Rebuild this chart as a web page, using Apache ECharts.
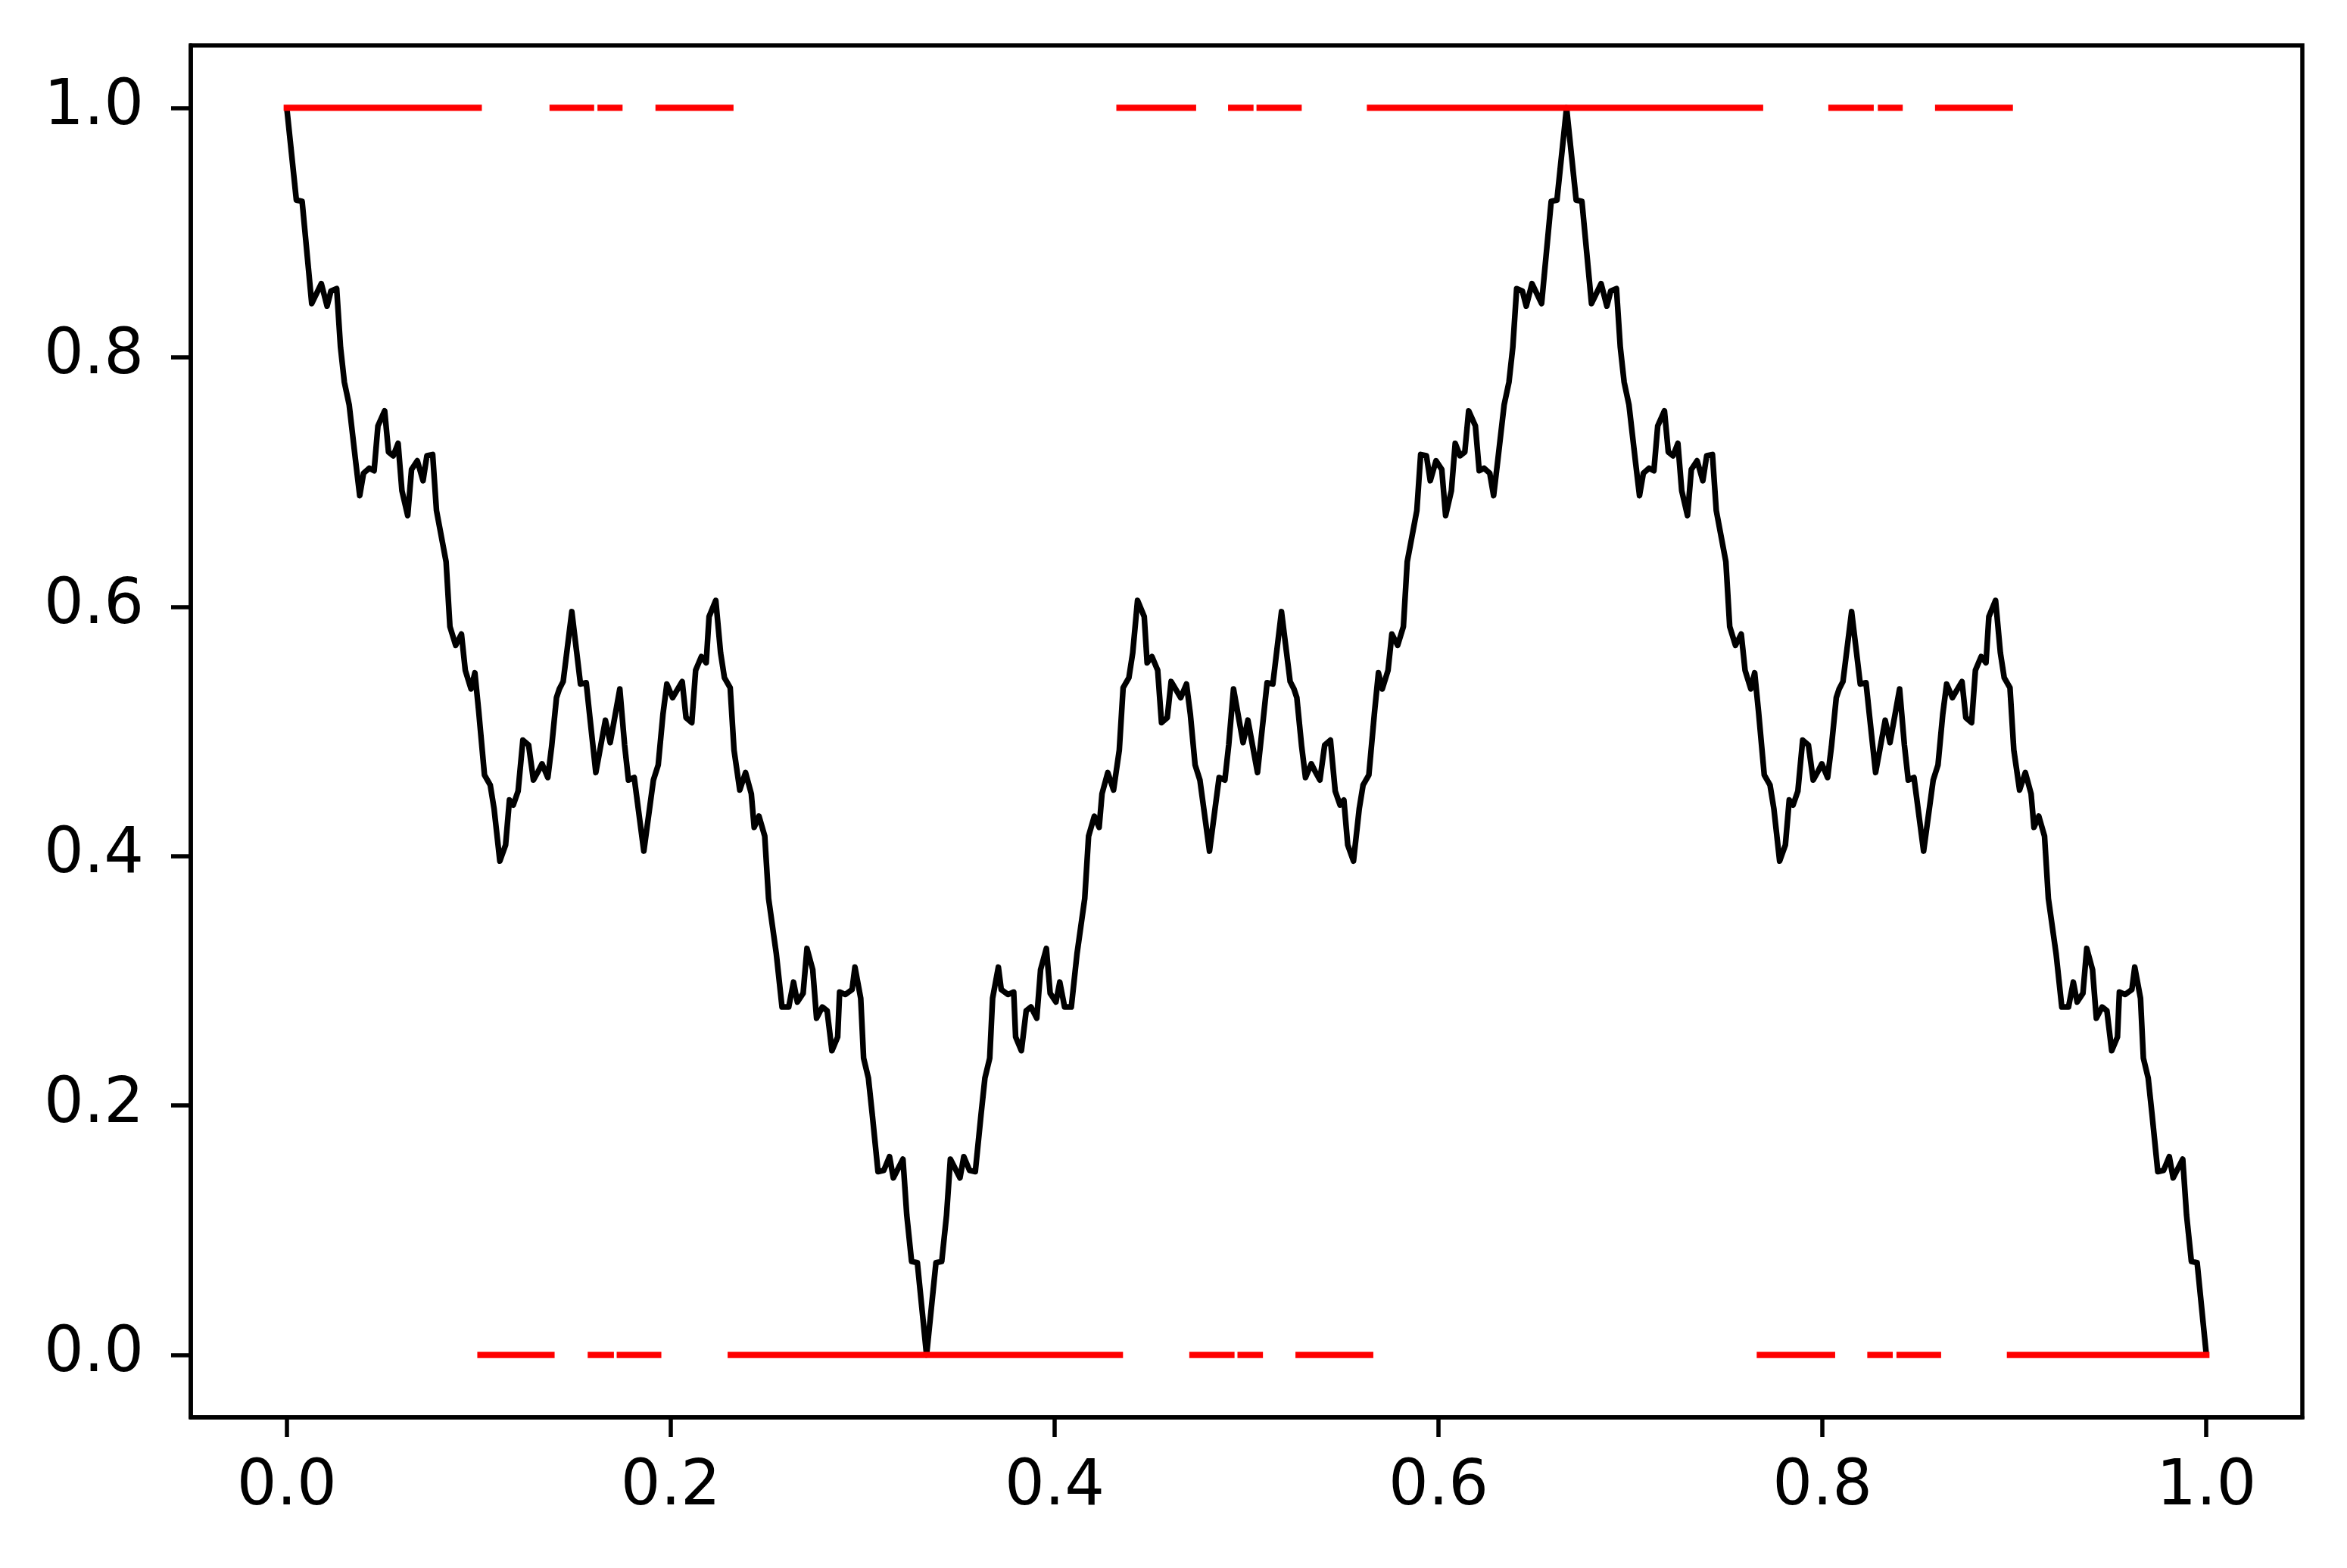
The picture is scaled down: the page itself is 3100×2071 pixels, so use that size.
<!DOCTYPE html>
<html>
<head>
<meta charset="utf-8">
<script src="https://cdn.jsdelivr.net/npm/echarts@6/dist/echarts.min.js"></script>
<style>
html,body{margin:0;padding:0;background:#fff;}
#chart{width:3100px;height:2071px;}
</style>
</head>
<body>
<div id="chart"></div>
<script>
// ---- black curve, first third [0, 1/3] ----
const curveX1 = [0.000,0.005,0.008,0.013,0.018,0.021,0.023,0.026,0.028,0.030,0.0325,0.036,0.038,0.040,0.043,0.0455,0.0475,0.051,0.053,0.0555,0.058,0.060,0.063,0.065,0.068,0.071,0.073,0.076,0.078,0.083,0.085,0.088,0.091,0.093,0.096,0.098,0.100,0.103,0.106,0.108,0.111,0.114,0.116,0.118,0.1205,0.123,0.126,0.1285,0.131,0.133,0.136,0.138,0.1405,0.142,0.144,0.1485,0.151,0.153,0.156,0.158,0.161,0.1635,0.166,0.1685,0.1735,0.176,0.178,0.181,0.186,0.191,0.1935,0.196,0.198,0.201,0.206,0.208,0.211,0.213,0.216,0.2185,0.220,0.2235,0.226,0.228,0.231,0.233,0.236,0.239,0.242,0.2435,0.246,0.249,0.251,0.255,0.258,0.2615,0.264,0.266,0.269,0.271,0.274,0.276,0.279,0.2815,0.284,0.287,0.288,0.291,0.2945,0.296,0.299,0.3005,0.303,0.305,0.308,0.311,0.314,0.316,0.321,0.323,0.3255,0.3285,0.3333];
const curveY1 = [1.000,0.926,0.925,0.843,0.859,0.841,0.853,0.855,0.808,0.780,0.762,0.715,0.689,0.707,0.711,0.709,0.745,0.757,0.724,0.721,0.731,0.693,0.673,0.710,0.717,0.701,0.721,0.722,0.677,0.636,0.584,0.569,0.578,0.549,0.534,0.547,0.516,0.465,0.457,0.438,0.396,0.409,0.445,0.441,0.452,0.493,0.489,0.461,0.468,0.474,0.463,0.488,0.527,0.534,0.540,0.596,0.564,0.538,0.539,0.510,0.467,0.488,0.509,0.491,0.534,0.489,0.461,0.463,0.404,0.461,0.473,0.514,0.538,0.527,0.540,0.511,0.507,0.549,0.560,0.555,0.592,0.605,0.563,0.543,0.535,0.485,0.453,0.467,0.450,0.423,0.432,0.416,0.366,0.322,0.279,0.279,0.299,0.283,0.290,0.326,0.309,0.270,0.279,0.276,0.244,0.255,0.291,0.289,0.293,0.311,0.286,0.238,0.222,0.193,0.147,0.148,0.159,0.142,0.157,0.112,0.075,0.074,0.000];

// ---- black curve, middle third (1/3, 2/3] ----
const curveX2 = [0.3382,0.3412,0.3437,0.3457,0.3507,0.3527,0.3557,0.3587,0.3617,0.3637,0.3662,0.3677,0.3707,0.3722,0.3757,0.3787,0.3797,0.3827,0.3852,0.3877,0.3907,0.3927,0.3957,0.3977,0.4007,0.4027,0.4052,0.4087,0.4117,0.4157,0.4177,0.4207,0.4232,0.4247,0.4277,0.4307,0.4337,0.4357,0.4387,0.4407,0.4432,0.4467,0.4482,0.4507,0.4537,0.4557,0.4587,0.4607,0.4657,0.4687,0.4707,0.4732,0.4757,0.4807,0.4857,0.4887,0.4907,0.4932,0.4982,0.5007,0.5032,0.5057,0.5087,0.5107,0.5137,0.5157,0.5182,0.5227,0.5247,0.5262,0.5287,0.5307,0.5337,0.5357,0.5382,0.5407,0.5437,0.5462,0.5487,0.5507,0.5527,0.5557,0.5587,0.5607,0.5637,0.5667,0.5687,0.5707,0.5737,0.5757,0.5787,0.5817,0.5837,0.5887,0.5907,0.5937,0.5957,0.5987,0.6017,0.6037,0.6067,0.6087,0.6112,0.6137,0.6157,0.6192,0.6212,0.6237,0.6267,0.6287,0.6307,0.6342,0.6367,0.6387,0.6407,0.6437,0.6457,0.6487,0.6537,0.6587,0.6617,0.6667];
const curveY2 = [0.074,0.075,0.112,0.157,0.142,0.159,0.148,0.147,0.193,0.222,0.238,0.286,0.311,0.293,0.289,0.291,0.255,0.244,0.276,0.279,0.270,0.309,0.326,0.290,0.283,0.299,0.279,0.279,0.322,0.366,0.416,0.432,0.423,0.450,0.467,0.453,0.485,0.535,0.543,0.563,0.605,0.592,0.555,0.560,0.549,0.507,0.511,0.540,0.527,0.538,0.514,0.473,0.461,0.404,0.463,0.461,0.489,0.534,0.491,0.509,0.488,0.467,0.510,0.539,0.538,0.564,0.596,0.540,0.534,0.527,0.488,0.463,0.474,0.468,0.461,0.489,0.493,0.452,0.441,0.445,0.409,0.396,0.438,0.457,0.465,0.516,0.547,0.534,0.549,0.578,0.569,0.584,0.636,0.677,0.722,0.721,0.701,0.717,0.710,0.673,0.693,0.731,0.721,0.724,0.757,0.745,0.709,0.711,0.707,0.689,0.715,0.762,0.780,0.808,0.855,0.853,0.841,0.859,0.843,0.925,0.926,1.000];

// ---- black curve, last third (2/3, 1] ----
const curveX3 = [0.6717,0.6747,0.6797,0.6847,0.6877,0.6897,0.6927,0.6947,0.6967,0.6992,0.7027,0.7047,0.7067,0.7097,0.7122,0.7142,0.7177,0.7197,0.7222,0.7247,0.7267,0.7297,0.7317,0.7347,0.7377,0.7397,0.7427,0.7447,0.7497,0.7517,0.7547,0.7577,0.7597,0.7627,0.7647,0.7667,0.7697,0.7727,0.7747,0.7777,0.7807,0.7827,0.7847,0.7872,0.7897,0.7927,0.7952,0.7977,0.7997,0.8027,0.8047,0.8072,0.8087,0.8107,0.8152,0.8177,0.8197,0.8227,0.8247,0.8277,0.8302,0.8327,0.8352,0.8402,0.8427,0.8447,0.8477,0.8527,0.8577,0.8602,0.8627,0.8647,0.8677,0.8727,0.8747,0.8777,0.8797,0.8827,0.8852,0.8867,0.8902,0.8927,0.8947,0.8977,0.8997,0.9027,0.9057,0.9087,0.9102,0.9127,0.9157,0.9177,0.9217,0.9247,0.9282,0.9307,0.9327,0.9357,0.9377,0.9407,0.9427,0.9457,0.9482,0.9507,0.9537,0.9547,0.9577,0.9612,0.9627,0.9657,0.9672,0.9697,0.9717,0.9747,0.9777,0.9807,0.9827,0.9877,0.9897,0.9922,0.9952,1.0000];
const curveY3 = [0.926,0.925,0.843,0.859,0.841,0.853,0.855,0.808,0.780,0.762,0.715,0.689,0.707,0.711,0.709,0.745,0.757,0.724,0.721,0.731,0.693,0.673,0.710,0.717,0.701,0.721,0.722,0.677,0.636,0.584,0.569,0.578,0.549,0.534,0.547,0.516,0.465,0.457,0.438,0.396,0.409,0.445,0.441,0.452,0.493,0.489,0.461,0.468,0.474,0.463,0.488,0.527,0.534,0.540,0.596,0.564,0.538,0.539,0.510,0.467,0.488,0.509,0.491,0.534,0.489,0.461,0.463,0.404,0.461,0.473,0.514,0.538,0.527,0.540,0.511,0.507,0.549,0.560,0.555,0.592,0.605,0.563,0.543,0.535,0.485,0.453,0.467,0.450,0.423,0.432,0.416,0.366,0.322,0.279,0.279,0.299,0.283,0.290,0.326,0.309,0.270,0.279,0.276,0.244,0.255,0.291,0.289,0.293,0.311,0.286,0.238,0.222,0.193,0.147,0.148,0.159,0.142,0.157,0.112,0.075,0.074,0.000];

// ---- red horizontal segments ----
const topLevel = 1;
const topStart = [0.000,0.1385,0.1635,0.1937,0.4338,0.4920,0.5068,0.5643,0.8047,0.8305,0.8603];
const topEnd   = [0.100,0.1585,0.1733,0.2311,0.4721,0.5020,0.5271,0.7675,0.8251,0.8402,0.8976];
const bottomLevel = 0;
const bottomStart = [0.1009,0.1584,0.1735,0.2313,0.4718,0.4969,0.5271,0.7674,0.8250,0.8402,0.8977];
const bottomEnd   = [0.1379,0.1688,0.1935,0.4340,0.4921,0.5069,0.5644,0.8050,0.8350,0.8602,1.0000];

// ---- tick labels ----
const xTicks = [0.0,0.2,0.4,0.6,0.8,1.0];
const yTicks = [0.0,0.2,0.4,0.6,0.8,1.0];

function pairs(xs, ys){
  const n = Math.min(xs.length, ys.length);
  const out = [];
  for (let i = 0; i < n; i++) out.push([xs[i], ys[i]]);
  return out;
}
const curveData = pairs(curveX1, curveY1).concat(pairs(curveX2, curveY2), pairs(curveX3, curveY3));

const series = [{
  type: 'line',
  data: curveData,
  showSymbol: false,
  symbol: 'none',
  lineStyle: {color: '#000000', width: 7.5, join: 'round', cap: 'butt'},
  z: 2,
  silent: true
}];
function addSegs(starts, ends, level){
  for (let i = 0; i < Math.min(starts.length, ends.length); i++) {
    series.push({
      type: 'line',
      data: [[starts[i], level], [ends[i], level]],
      showSymbol: false,
      symbol: 'none',
      lineStyle: {color: '#ff0000', width: 8.3, cap: 'square'},
      z: 3,
      silent: true
    });
  }
}
addSegs(topStart, topEnd, topLevel);
addSegs(bottomStart, bottomEnd, bottomLevel);

const labelStyle = {
  fontFamily: 'DejaVu Sans',
  fontSize: 83,
  color: '#000000',
  formatter: v => Number(v).toFixed(1)
};
const chart = echarts.init(document.getElementById('chart'), null, {renderer: 'canvas'});
chart.setOption({
  animation: false,
  backgroundColor: '#ffffff',
  grid: {left: 252, right: 59, top: 60, bottom: 199, show: true, borderColor: '#000000', borderWidth: 5.5, backgroundColor: 'transparent'},
  xAxis: {
    type: 'value', min: -0.05, max: 1.05,
    splitLine: {show: false},
    axisLine: {show: true, onZero: false, lineStyle: {color: '#000000', width: 5.5}},
    axisTick: {show: true, length: 26, customValues: xTicks, lineStyle: {color: '#000000', width: 5.5}},
    axisLabel: Object.assign({customValues: xTicks, margin: 52}, labelStyle)
  },
  yAxis: {
    type: 'value', min: -0.05, max: 1.05,
    splitLine: {show: false},
    axisLine: {show: true, onZero: false, lineStyle: {color: '#000000', width: 5.5}},
    axisTick: {show: true, length: 26, customValues: yTicks, lineStyle: {color: '#000000', width: 5.5}},
    axisLabel: Object.assign({customValues: yTicks, margin: 62}, labelStyle)
  },
  series: series
});
</script>
</body>
</html>
